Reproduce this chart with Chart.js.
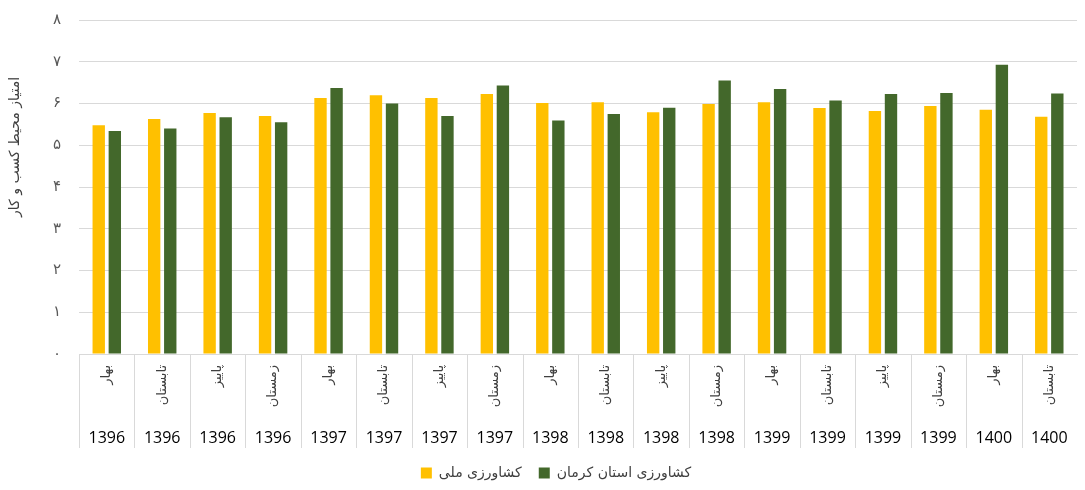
<!DOCTYPE html>
<html>
<head>
<meta charset="utf-8">
<script src="https://cdn.jsdelivr.net/npm/chart.js@4/dist/chart.umd.min.js"></script>
<style>
  html, body { margin: 0; padding: 0; background: #fff; overflow: hidden; }
  #wrap { width: 1085px; height: 497px; margin-top: -7px; }
</style>
</head>
<body>
<div id="wrap"><canvas id="chart"></canvas></div>
<script>
// categories: season + year
const seasons = ['بهار', 'تابستان', 'پاییز', 'زمستان', 'بهار', 'تابستان', 'پاییز', 'زمستان', 'بهار', 'تابستان', 'پاییز', 'زمستان', 'بهار', 'تابستان', 'پاییز', 'زمستان', 'بهار', 'تابستان'];
const years = ['1396', '1396', '1396', '1396', '1397', '1397', '1397', '1397', '1398', '1398', '1398', '1398', '1399', '1399', '1399', '1399', '1400', '1400'];
// series values
const national = [5.48, 5.63, 5.77, 5.70, 6.13, 6.20, 6.13, 6.23, 6.01, 6.03, 5.79, 5.99, 6.03, 5.89, 5.82, 5.94, 5.85, 5.68];
const kerman = [5.34, 5.40, 5.67, 5.55, 6.37, 6.00, 5.70, 6.43, 5.59, 5.75, 5.90, 6.55, 6.35, 6.07, 6.23, 6.25, 6.93, 6.24];
// labels
const seriesNames = ['کشاورزی ملی', 'کشاورزی استان کرمان'];
const yTitle = 'امتیاز محیط کسب و کار';

const faDigits = '۰۱۲۳۴۵۶۷۸۹';
const toFa = (v) => String(v).replace(/\d/g, (d) => faDigits[d]);

const FONT = "'DejaVu Sans', sans-serif";

// draws the two-row category table under the bars, plus the y title
const categoryTable = {
	id: 'categoryTable',
	afterDraw(chart) {
		const ctx = chart.ctx;
		const x = chart.scales.x;
		const area = chart.chartArea;
		const top = area.bottom;
		const bottom = top + 94;
		const step = x.getPixelForValue(1) - x.getPixelForValue(0);
		ctx.save();
		// separators
		ctx.strokeStyle = '#d9d9d9';
		ctx.lineWidth = 1;
		for (let i = 0; i < seasons.length; i++) {
			const edge = Math.round(x.getPixelForValue(i) - step / 2) + 0.5;
			ctx.beginPath();
			ctx.moveTo(edge, top);
			ctx.lineTo(edge, bottom);
			ctx.stroke();
		}
		for (let i = 0; i < seasons.length; i++) {
			const cx = x.getPixelForValue(i);
			// season, rotated
			ctx.save();
			ctx.translate(cx, top + 11);
			ctx.rotate(-Math.PI / 2);
			ctx.font = '13px ' + FONT;
			ctx.fillStyle = '#404040';
			ctx.textAlign = 'right';
			ctx.textBaseline = 'middle';
			ctx.fillText(seasons[i], 0, 0);
			ctx.restore();
			// year
			ctx.font = "16px 'Open Sans', sans-serif";
			ctx.fillStyle = '#000';
			ctx.textAlign = 'center';
			ctx.textBaseline = 'middle';
			ctx.fillText(years[i], cx, top + 84);
		}
		// y axis title, sits a bit above the middle like the original
		ctx.save();
		ctx.translate(15, area.top + (area.bottom - area.top) * 0.38);
		ctx.rotate(-Math.PI / 2);
		ctx.font = '14px ' + FONT;
		ctx.fillStyle = '#404040';
		ctx.textAlign = 'center';
		ctx.textBaseline = 'middle';
		ctx.fillText(yTitle, 0, 0);
		ctx.restore();
		ctx.restore();
	},
};

new Chart(document.getElementById('chart'), {
	type: 'bar',
	plugins: [categoryTable],
	data: {
		labels: seasons,
		datasets: [
			{ label: seriesNames[0], data: national, backgroundColor: '#FFC000' },
			{ label: seriesNames[1], data: kerman, backgroundColor: '#43682B' },
		],
	},
	options: {
		responsive: true,
		maintainAspectRatio: false,
		animation: false,
		categoryPercentage: 0.58,
		barPercentage: 0.77,
		layout: { padding: { left: 35, right: 8, top: 0, bottom: 0 } },
		scales: {
			x: {
				grid: { display: false },
				border: { color: '#d9d9d9' },
				ticks: { display: false },
				afterFit(scale) { scale.height = 95; },
			},
			y: {
				min: 0,
				max: 8,
				ticks: {
					stepSize: 1,
					padding: 18,
					color: '#595959',
					font: { family: FONT, size: 15 },
					callback: (v) => toFa(v),
				},
				grid: { color: '#d9d9d9', drawTicks: false },
				border: { display: false },
			},
		},
		plugins: {
			tooltip: { enabled: false },
			legend: {
				position: 'bottom',
				labels: {
					boxWidth: 11,
					boxHeight: 11,
					color: '#404040',
					padding: 17,
					font: { family: FONT, size: 14 },
				},
			},
		},
	},
});
</script>
</body>
</html>
